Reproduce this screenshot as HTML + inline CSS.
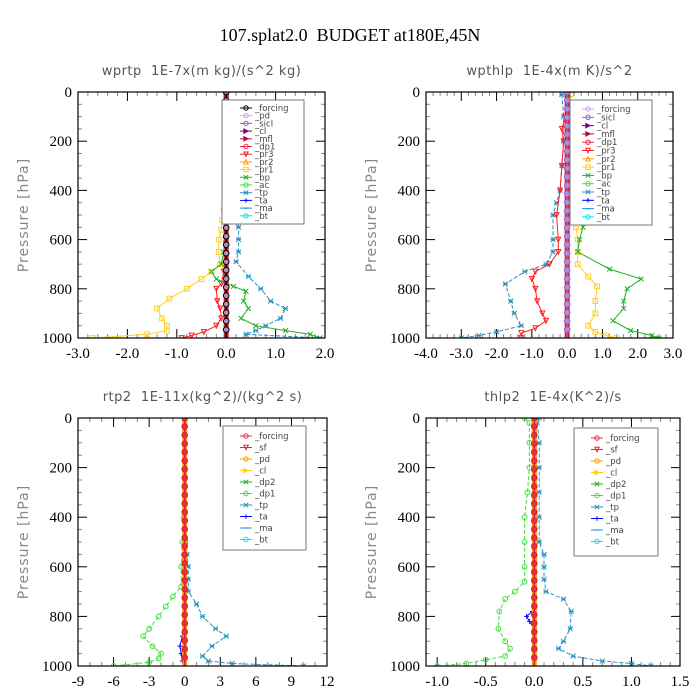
<!DOCTYPE html>
<html><head><meta charset="utf-8"><style>
html,body{margin:0;padding:0;background:#fff;width:700px;height:700px;overflow:hidden}
svg{display:block}
text{white-space:pre}
.tick{font-family:"Liberation Serif",serif;font-size:15px;fill:#000}
.ptitle{font-family:"DejaVu Sans","Liberation Sans",sans-serif;font-size:13px;fill:#555;letter-spacing:0.5px}
.ylab{font-family:"DejaVu Sans","Liberation Sans",sans-serif;font-size:14px;fill:#888;letter-spacing:1px}
.leg{font-family:"DejaVu Sans","Liberation Sans",sans-serif;font-size:8.5px;fill:#444}
</style></head><body>
<svg id="fig" width="700" height="700">
<text x="350" y="41" text-anchor="middle" font-family="Liberation Serif,serif" font-size="18">107.splat2.0  BUDGET at180E,45N</text>
</svg>
<script>
// ---------- data ----------
// Panel 1: wprtp
const p1_pr1_p=[10,100,200,300,400,450,480,520,560,600,650,700,730,760,800,840,880,920,950,970,985,1000];
const p1_pr1_v=[0,0,0,0,0,-0.02,-0.05,-0.08,-0.1,-0.15,-0.15,-0.12,-0.3,-0.5,-0.8,-1.15,-1.4,-1.3,-1.2,-1.2,-1.6,-2.7];
const p1_pr3_p=[10,200,400,600,700,730,780,800,850,880,920,950,975,990,1000];
const p1_pr3_v=[0,0,0,0,0,-0.05,-0.1,-0.2,-0.18,-0.12,-0.1,-0.2,-0.45,-0.7,-0.9];
const p1_bp_p=[10,200,400,600,650,700,730,760,790,810,850,880,920,950,970,985,1000];
const p1_bp_v=[0,0,0,-0.02,-0.05,-0.1,-0.3,-0.2,0.15,0.4,0.35,0.45,0.3,0.6,1.2,1.7,1.9];
const p1_tp_p=[10,200,400,450,500,550,600,650,690,750,800,850,880,920,950,970,985,1000];
const p1_tp_v=[0,0,0,0.1,0.2,0.25,0.25,0.25,0.2,0.45,0.7,0.9,1.2,1.1,0.8,0.6,0.4,1.9];
// Panel 2: wpthlp
const p2_tp_p=[10,100,200,300,400,450,500,600,650,700,730,780,850,900,950,975,990,1000];
const p2_tp_v=[-0.15,-0.1,-0.1,-0.15,-0.2,-0.3,-0.4,-0.4,-0.4,-0.6,-1.2,-1.75,-1.6,-1.5,-1.3,-2.0,-2.5,-3.0];
const p2_pr3_p=[10,100,150,200,300,400,500,600,650,700,730,760,800,850,900,930,960,980,1000];
const p2_pr3_v=[0,-0.05,-0.15,-0.1,-0.15,-0.2,-0.3,-0.25,-0.25,-0.5,-0.9,-1.0,-0.9,-0.85,-0.7,-0.6,-0.9,-1.3,-1.3];
const p2_pr1_p=[10,100,200,300,400,450,500,550,600,650,700,750,790,850,900,950,975,990,1000];
const p2_pr1_v=[0.1,0.05,0.05,0.05,0.1,0.15,0.2,0.25,0.3,0.3,0.3,0.6,0.85,0.8,0.8,0.6,0.8,1.1,1.4];
const p2_bp_p=[10,50,140,180,200,300,400,500,550,600,650,720,760,800,850,880,930,970,990,1000];
const p2_bp_v=[0.05,0.1,0.3,0.3,0.3,0.2,0.35,0.45,0.45,0.35,0.3,1.2,2.1,1.7,1.6,1.6,1.3,1.8,2.4,2.6];
// Panel 3: rtp2
const p3_dp1_p=[10,200,400,500,600,680,720,760,800,850,880,920,950,970,985,1000];
const p3_dp1_v=[0,0,-0.1,-0.2,-0.3,-0.3,-1.0,-1.6,-2.2,-3.0,-3.5,-2.7,-2,-2.2,-3.0,-6.0];
const p3_tp_p=[10,400,500,550,600,650,700,750,800,850,880,920,960,980,990,1000];
const p3_tp_v=[0,0,0.1,0.2,0.3,0.3,0.3,1.0,1.5,2.6,3.5,2.3,1.5,2.0,4.0,10.0];
const p3_ta_p=[850,880,920,950,980,1000];
const p3_ta_v=[0,-0.2,-0.4,-0.3,-0.2,0];
// Panel 4: thlp2
const p4_dp1_p=[0,20,100,200,300,400,500,600,660,700,730,780,850,900,930,960,975,990,1000];
const p4_dp1_v=[-0.1,-0.05,-0.05,-0.05,-0.07,-0.1,-0.1,-0.1,-0.1,-0.2,-0.3,-0.36,-0.37,-0.3,-0.25,-0.3,-0.5,-0.7,-1.0];
const p4_tp_p=[0,20,100,200,300,400,500,550,600,650,700,730,780,850,900,930,960,980,990,1000];
const p4_tp_v=[0.05,0.03,0.05,0.05,0.05,0.05,0.05,0.1,0.1,0.1,0.12,0.3,0.38,0.37,0.3,0.25,0.4,0.7,1.0,1.2];
const p4_ta_p=[780,800,820,850];
const p4_ta_v=[-0.02,-0.08,-0.05,0];

const legend1=['_forcing','_pd','_sicl','_cl','_mfl','_dp1','_pr3','_pr2','_pr1','_bp','_ac','_tp','_ta','_ma','_bt'];
const legend2=['_forcing','_sicl','_cl','_mfl','_dp1','_pr3','_pr2','_pr1','_bp','_ac','_tp','_ta','_ma','_bt'];
const legend3=['_forcing','_sf','_pd','_cl','_dp2','_dp1','_tp','_ta','_ma','_bt'];
const xt1=['-3.0','-2.0','-1.0','0.0','1.0','2.0'];
const xt2=['-4.0','-3.0','-2.0','-1.0','0.0','1.0','2.0','3.0'];
const xt3=['-9','-6','-3','0','3','6','9','12'];
const xt4=['-1.0','-0.5','0.0','0.5','1.0','1.5'];
const yticks=[0,200,400,600,800,1000];

// ---------- rendering ----------
const NS='http://www.w3.org/2000/svg';
const svg=document.getElementById('fig');
function mk(tag,attrs,parent){const e=document.createElementNS(NS,tag);for(const k in attrs)e.setAttribute(k,attrs[k]);(parent||svg).appendChild(e);return e;}
const COL={'_forcing':'#000','_pd':'#d0a8e0','_sicl':'#9a60c8','_cl':'#800080','_mfl':'#b01040','_dp1':'#e83050','_pr3':'#ff2020','_pr2':'#ffa000','_pr1':'#ffd020','_bp':'#20b020','_ac':'#40e040','_tp':'#2a90c0','_ta':'#0000ff','_ma':'#1e90ff','_bt':'#00e8f0','_sf':'#ff2020','_dp2':'#20b020'};
const MK={'_forcing':'o','_pd':'o','_sicl':'o','_cl':'>','_mfl':'<','_dp1':'o','_pr3':'v','_pr2':'^','_pr1':'s','_bp':'x','_ac':'o','_tp':'*','_ta':'+','_ma':'-','_bt':'o','_sf':'v','_dp2':'x'};
function marker(g,x,y,t,c,r){
  r=r||2.6;
  if(t==='o')mk('circle',{cx:x,cy:y,r:r,fill:'none',stroke:c,'stroke-width':1},g);
  else if(t==='s')mk('rect',{x:x-r,y:y-r,width:2*r,height:2*r,fill:'none',stroke:c,'stroke-width':1},g);
  else if(t==='x'||t==='*'){mk('path',{d:`M${x-r} ${y-r}L${x+r} ${y+r}M${x-r} ${y+r}L${x+r} ${y-r}`+(t==='*'?`M${x-r} ${y}L${x+r} ${y}`:''),stroke:c,'stroke-width':1},g);}
  else if(t==='+')mk('path',{d:`M${x-r} ${y}L${x+r} ${y}M${x} ${y-r}L${x} ${y+r}`,stroke:c,'stroke-width':1},g);
  else if(t==='-')mk('path',{d:`M${x-r} ${y}L${x+r} ${y}`,stroke:c,'stroke-width':1.2},g);
  else if(t==='v')mk('path',{d:`M${x-r} ${y-r}L${x+r} ${y-r}L${x} ${y+r}Z`,fill:'none',stroke:c,'stroke-width':1},g);
  else if(t==='^')mk('path',{d:`M${x-r} ${y+r}L${x+r} ${y+r}L${x} ${y-r}Z`,fill:'none',stroke:c,'stroke-width':1},g);
  else mk('path',{d:`M${x-r} ${y-r}L${x+r} ${y}L${x-r} ${y+r}Z`,fill:c,stroke:c},g);
}
function panel(cfg){
  const g=mk('g',{});
  
  
  const {x0,x1,y0,y1,xmin,xmax}=cfg;
  const colOf=k=>(cfg.lcol&&cfg.lcol[k])||COL[k];
  const sx=v=>x0+(v-xmin)/(xmax-xmin)*(x1-x0);
  const sy=p=>y0+p/1000*(y1-y0);
  const t=mk('text',{x:(x0+x1)/2,y:y0-17,'text-anchor':'middle',class:'ptitle'},g);t.textContent=cfg.title;
  
  const yl=mk('text',{x:0,y:0,'text-anchor':'middle',class:'ylab',transform:`translate(${x0-50},${(y0+y1)/2}) rotate(-90)`},g);yl.textContent='Pressure [hPa]';
  
  for(let p=0;p<=1000;p+=50){const y=sy(p);const L=p%200===0?9:4;
    mk('line',{x1:x0,y1:y,x2:x0+L,y2:y,stroke:p%200===0?'#000':'#888','stroke-width':1},g);
    mk('line',{x1:x1,y1:y,x2:x1-L,y2:y,stroke:p%200===0?'#000':'#888','stroke-width':1},g);}
  yticks.forEach(p=>{const e=mk('text',{x:x0-6,y:sy(p)+5,'text-anchor':'end',class:'tick'},g);e.textContent=p;
    });
  const xt=cfg.xt;
  xt.forEach((s,i)=>{const v=parseFloat(s);const x=sx(v);
    mk('line',{x1:x,y1:y1,x2:x,y2:y1-9,stroke:'#000'},g);mk('line',{x1:x,y1:y0,x2:x,y2:y0+9,stroke:'#000'},g);
    const e=mk('text',{x:x,y:y1+20,'text-anchor':'middle',class:'tick'},g);e.textContent=s;
    
    if(i<xt.length-1){const v2=parseFloat(xt[i+1]);for(let k=1;k<cfg.minor;k++){const xm=sx(v+(v2-v)*k/cfg.minor);
      mk('line',{x1:xm,y1:y1,x2:xm,y2:y1-4,stroke:'#888'},g);mk('line',{x1:xm,y1:y0,x2:xm,y2:y0+4,stroke:'#888'},g);}}
  });
  const clip='clip-'+cfg.name;
  const cp=mk('clipPath',{id:clip},g);mk('rect',{x:x0,y:y0,width:x1-x0,height:y1-y0},cp);
  const dg=mk('g',{'clip-path':`url(#${clip})`},g);
  cfg.series.forEach(s=>{
    const c=colOf(s.key);
    const d=s.p.map((p,i)=>(i?'L':'M')+sx(s.v[i]).toFixed(1)+' '+sy(p).toFixed(1)).join('');
    const path=mk('path',{d:d,fill:'none',stroke:c,'stroke-width':1,'stroke-dasharray':s.dash||''},dg);
    
    
    s.p.forEach((p,i)=>marker(dg,sx(s.v[i]),sy(p),MK[s.key],c,2.4));
  });
  const zx=sx(0);
  const zl=mk('line',{x1:zx,y1:y0,x2:zx,y2:y1,stroke:cfg.zc2,'stroke-width':5},dg);
  
  mk('line',{x1:zx,y1:y0,x2:zx,y2:y1,stroke:cfg.zc,'stroke-width':1.5},dg);
  for(let p=0;p<=1000;p+=34.5)mk('circle',{cx:zx,cy:sy(p),r:2.8,fill:cfg.zfill,stroke:cfg.zc,'stroke-width':1},dg);
  mk('rect',{x:x0,y:y0,width:x1-x0,height:y1-y0,fill:'none',stroke:'#000','stroke-width':1.2},g);
  const lg=mk('g',{},g);
  
  mk('rect',{x:cfg.lx,y:cfg.ly,width:cfg.lw,height:cfg.lh,fill:'#fff',stroke:'#777','stroke-width':1},lg);
  cfg.legend.forEach((k,i)=>{const y=cfg.ly+cfg.l0+i*cfg.ls;const c=colOf(k);const lx=cfg.lx+cfg.lo;
    mk('line',{x1:lx,y1:y,x2:lx+12,y2:y,stroke:c},lg);marker(lg,lx+6,y,MK[k],c,2.2);
    const e=mk('text',{x:lx+15,y:y+3,class:'leg','font-size':cfg.lf},lg);e.textContent=k;
    });
}
const botCol={'_forcing':'#e83050','_dp1':'#40e040','_pd':'#ffa000','_cl':'#ffd020'};
panel({name:'panel-wprtp',title:'wprtp  1E-7x(m kg)/(s^2 kg)',x0:78,x1:325,y0:92,y1:338,xmin:-3,xmax:2,xt:xt1,minor:5,
  zc:'#000',zc2:'#e02020',zfill:'#b090c0',legend:legend1,lx:222,ly:100,lw:82,lh:124,l0:8,ls:7.7,lo:18,lf:8,
  series:[{key:'_pr1',p:p1_pr1_p,v:p1_pr1_v},{key:'_pr3',p:p1_pr3_p,v:p1_pr3_v},{key:'_bp',p:p1_bp_p,v:p1_bp_v},{key:'_tp',p:p1_tp_p,v:p1_tp_v,dash:'4 2'}]});
panel({name:'panel-wpthlp',title:'wpthlp  1E-4x(m K)/s^2',x0:426,x1:673,y0:92,y1:338,xmin:-4,xmax:3,xt:xt2,minor:5,
  zc:'#9a60c8',zc2:'#e02020',zfill:'#b090d0',legend:legend2,lcol:{'_forcing':'#d0a8e0'},lx:570,ly:100,lw:82,lh:125,l0:9,ls:8.3,lo:12,lf:8.5,
  series:[{key:'_tp',p:p2_tp_p,v:p2_tp_v,dash:'4 2'},{key:'_pr3',p:p2_pr3_p,v:p2_pr3_v},{key:'_pr1',p:p2_pr1_p,v:p2_pr1_v},{key:'_bp',p:p2_bp_p,v:p2_bp_v}]});
panel({name:'panel-rtp2',title:'rtp2  1E-11x(kg^2)/(kg^2 s)',x0:78,x1:327,y0:418,y1:666,xmin:-9,xmax:12,xt:xt3,minor:3,
  zc:'#e02020',zc2:'#e8a020',zfill:'#e83040',legend:legend3,lcol:botCol,lx:223,ly:426,lw:83,lh:124,l0:10,ls:11.5,lo:17,lf:9.5,
  series:[{key:'_dp1',p:p3_dp1_p,v:p3_dp1_v,dash:'4 2'},{key:'_tp',p:p3_tp_p,v:p3_tp_v,dash:'4 2'},{key:'_ta',p:p3_ta_p,v:p3_ta_v}]});
panel({name:'panel-thlp2',title:'thlp2  1E-4x(K^2)/s',x0:426,x1:680,y0:418,y1:666,xmin:-1.115,xmax:1.5,xt:xt4,minor:5,
  zc:'#e02020',zc2:'#e8a020',zfill:'#e83040',legend:legend3,lcol:botCol,lx:574,ly:428,lw:84,lh:128,l0:10,ls:11.5,lo:17,lf:9.5,
  series:[{key:'_dp1',p:p4_dp1_p,v:p4_dp1_v,dash:'4 2'},{key:'_tp',p:p4_tp_p,v:p4_tp_v,dash:'4 2'},{key:'_ta',p:p4_ta_p,v:p4_ta_v}]});
</script>
</body></html>
